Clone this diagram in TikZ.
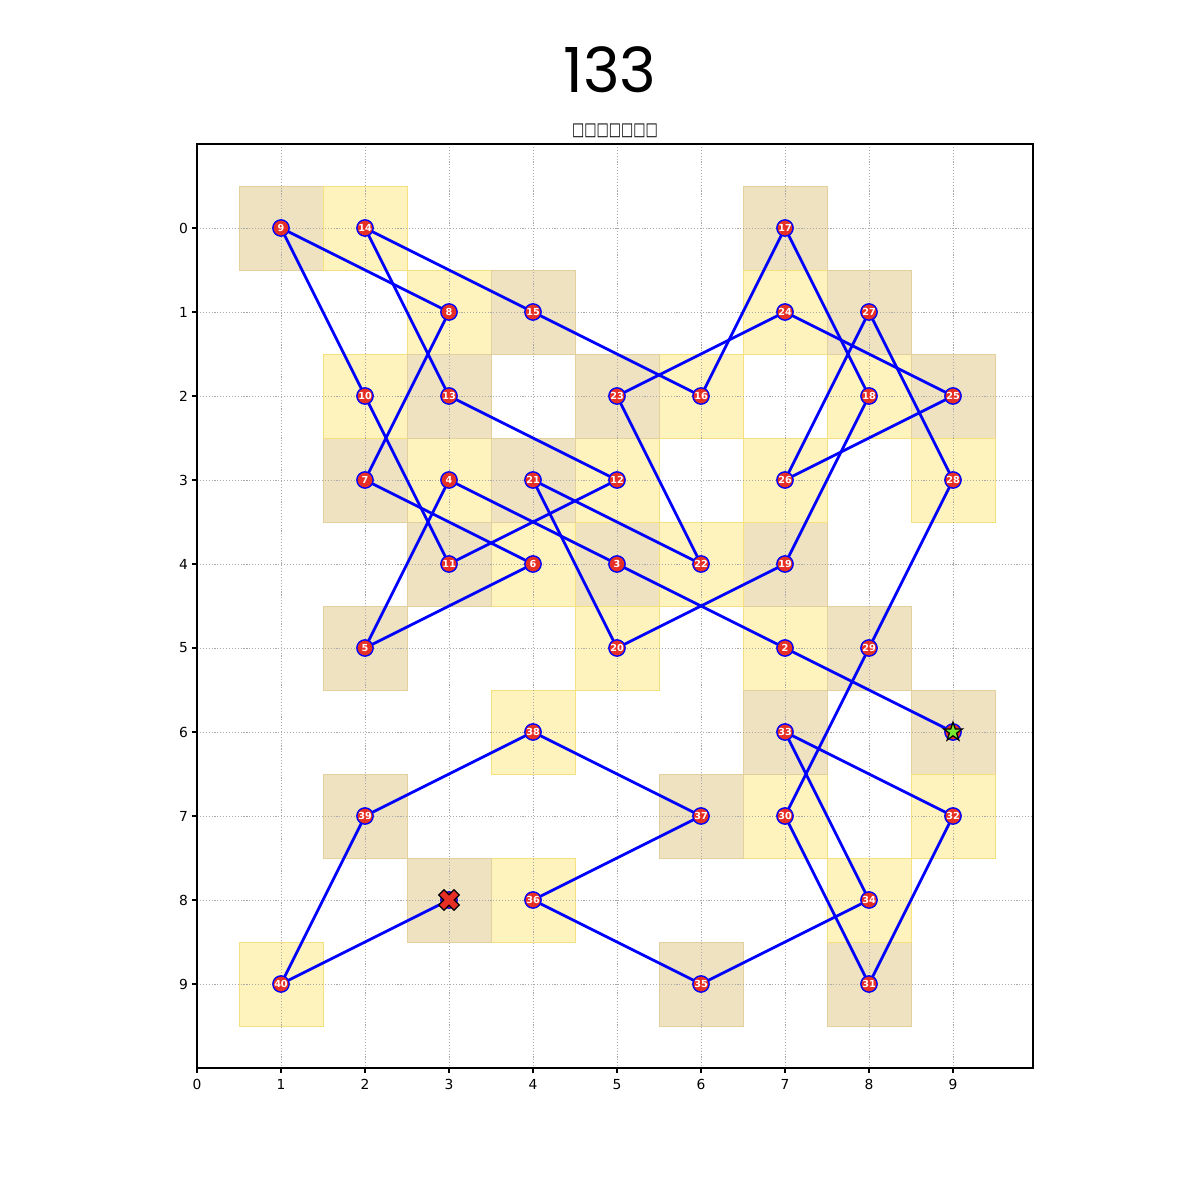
\documentclass[tikz,border=0pt]{standalone}
\usepackage{fontspec}
\setmainfont{DejaVu Sans}
\newfontfamily\titlefont{Poppins}
\usetikzlibrary{shapes.geometric}
\definecolor{tancell}{RGB}{238,226,192}
\definecolor{tanedge}{RGB}{226,208,158}
\definecolor{yelcell}{RGB}{254,243,188}
\definecolor{yeledge}{RGB}{246,224,128}
\definecolor{gridgray}{RGB}{170,170,170}
\definecolor{nodered}{RGB}{230,48,38}
\definecolor{pathblue}{RGB}{0,0,255}
\definecolor{stargreen}{RGB}{120,232,50}
\pgfdeclarelayer{cells}
\pgfdeclarelayer{paths}
\pgfsetlayers{cells,paths,main}
\begin{document}
\begin{tikzpicture}[x=2.1336cm,y=-2.1336cm,
  celltan/.style={fill=tancell,draw=tanedge,line width=0.7pt},
  cellyel/.style={fill=yelcell,draw=yeledge,line width=0.7pt},
  gridline/.style={draw=gridgray,line width=0.6pt,dash pattern=on 0.8pt off 1.3pt},
  frame/.style={draw=black,line width=0.8pt},
  tick/.style={draw=black,line width=0.8pt},
  ticklabel/.style={font=\fontsize{10}{12}\selectfont,inner sep=0pt},
  pt/.style={circle,fill=nodered,draw=pathblue,line width=1pt,minimum size=11.8pt,inner sep=0pt,text=white,font=\bfseries\fontsize{7}{8}\selectfont},
  route/.style={draw=pathblue,line width=2pt,line join=round},
  startstar/.style={star,star points=5,star point ratio=2.618,minimum size=14.4pt,inner sep=0pt,fill=stargreen,draw=black,line width=0.9pt},
  endmark/.style={fill=nodered,draw=black,line width=0.9pt,line join=miter}
]
\useasboundingbox (-2.3452,-2.7143) rectangle (11.9405,11.5714);
\begin{pgfonlayer}{cells}
\fill[white] (-2.3452,-2.7143) rectangle (11.9405,11.5714);
\foreach \x/\y in {9/6,7/5,5/4,3/3,2/5,4/4,2/3,3/1,1/0,2/2,3/4,5/3,3/2,2/0,4/1,6/2,7/0,8/2,7/4,5/5,4/3,6/4,5/2,7/1,9/2,7/3,8/1,9/3,8/5,7/7,8/9,9/7,7/6,8/8,6/9,4/8,6/7,4/6,2/7,1/9,3/8}{
  \pgfmathtruncatemacro{\cellpar}{mod(\x+\y,2)}
  \ifnum\cellpar=1
    \path[celltan] (\x-0.5,\y-0.5) rectangle (\x+0.5,\y+0.5);
  \else
    \path[cellyel] (\x-0.5,\y-0.5) rectangle (\x+0.5,\y+0.5);
  \fi
}
\foreach \i in {0,...,9}{
  \path[gridline] (\i,-1) -- (\i,10);
  \path[gridline] (0,\i) -- (9.9524,\i);
}
\end{pgfonlayer}
% frame and ticks
\path[frame] (0,-1) rectangle (9.9524,10);
\foreach \i in {0,...,9}{
  \path[tick] (\i,10) -- ++(0,-3.5pt);
  \node[ticklabel,anchor=north] (tx\i) at ([yshift=-8.1pt]\i,10) {\i};
  \path[tick] (0,\i) -- ++(-3.5pt,0);
  \node[ticklabel,anchor=east] (ty\i) at ([xshift=-6.3pt]0,\i) {\i};
}
% titles
\node[font=\titlefont\fontsize{45}{50}\selectfont,inner sep=0pt] (title) at (4.917,-1.887) {133};
\node[font=\bfseries\fontsize{13}{15}\selectfont,inner sep=0pt] (subtitle) at (4.976,-1.155) {\scalebox{0.72}[1]{□□□□□□□}};
% tour nodes
\foreach \i/\x/\y in {2/7/5,3/5/4,4/3/3,5/2/5,6/4/4,7/2/3,8/3/1,9/1/0,10/2/2,11/3/4,12/5/3,13/3/2,14/2/0,15/4/1,16/6/2,17/7/0,18/8/2,19/7/4,20/5/5,21/4/3,22/6/4,23/5/2,24/7/1,25/9/2,26/7/3,27/8/1,28/9/3,29/8/5,30/7/7,31/8/9,32/9/7,33/7/6,34/8/8,35/6/9,36/4/8,37/6/7,38/4/6,39/2/7,40/1/9}{
  \node[pt] (n\i) at (\x,\y) {\i};
}
\node[pt] (n1) at (9,6) {};
\node[pt] (n41) at (3,8) {};
\begin{pgfonlayer}{paths}
\foreach \a/\b in {1/2,2/3,3/4,4/5,5/6,6/7,7/8,8/9,9/10,10/11,11/12,12/13,13/14,14/15,15/16,16/17,17/18,18/19,19/20,20/21,21/22,22/23,23/24,24/25,25/26,26/27,27/28,28/29,29/30,30/31,31/32,32/33,33/34,34/35,35/36,36/37,37/38,38/39,39/40,40/41}{
  \path[route] (n\a.center) -- (n\b.center);
}
\end{pgfonlayer}
% start and end markers
\node[startstar] (start) at (n1.center) {};
\begin{scope}[shift={(n41.center)},rotate=45,x=1pt,y=1pt]
\path[endmark] (2.7,7.8) -- (-2.7,7.8) -- (-2.7,2.7) -- (-7.8,2.7) -- (-7.8,-2.7) -- (-2.7,-2.7) -- (-2.7,-7.8) -- (2.7,-7.8) -- (2.7,-2.7) -- (7.8,-2.7) -- (7.8,2.7) -- (2.7,2.7) -- cycle;
\end{scope}
\end{tikzpicture}
\end{document}
